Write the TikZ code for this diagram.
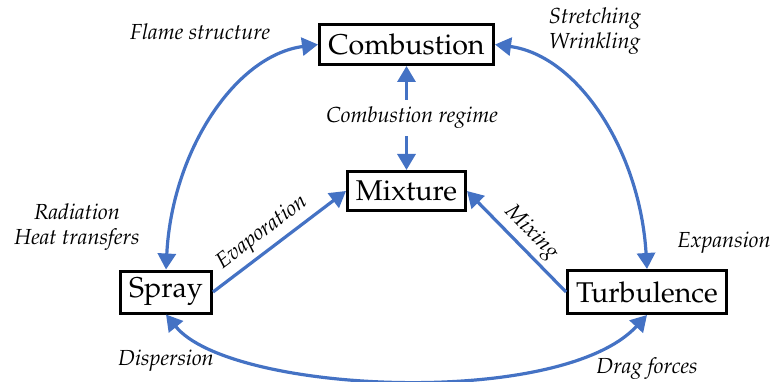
\documentclass[tikz,border=0pt]{standalone}
\usepackage[T1]{fontenc}
\usepackage{mathpazo}
\usetikzlibrary{arrows.meta}
\definecolor{arrblue}{RGB}{68,114,196}
\begin{document}
\begin{tikzpicture}[x=1pt,y=-1pt,
  box/.style={draw=black, line width=3pt, inner sep=0pt, font=\fontsize{28.6}{32}\selectfont},
  lbl/.style={font=\fontsize{21.8}{25}\selectfont\itshape, align=center, inner sep=0pt},
  tip/.tip={Triangle[length=16pt,width=18pt]},
  arr/.style={draw=arrblue, line width=3.2pt, -tip},
  darr/.style={draw=arrblue, line width=3.2pt, tip-tip}]
\useasboundingbox (0,0) rectangle (770,382);

\node[box, minimum width=174pt, minimum height=40pt] (comb) at (406.5,44.5) {Combustion};
\node[box, minimum width=118pt, minimum height=39pt] (mix) at (406.5,191) {Mixture};
\node[box, minimum width=91pt, minimum height=42pt] (spray) at (166,292) {Spray};
\node[box, minimum width=159pt, minimum height=43pt] (turb) at (647,292) {Turbulence};

\node[lbl, minimum height=36pt] (regime) at (412,118) {Combustion regime};
\node[lbl] (flame) at (200,32) {Flame structure};
\node[lbl, align=left] (stretch) at (595,31) {Stretching\\Wrinkling};
\node[lbl] (rad) at (77,227) {Radiation\\Heat transfers};
\node[lbl] (disp) at (166,361) {Dispersion};
\node[lbl] (drag) at (647,369) {Drag forces};
\node[lbl] (exp) at (724,243) {Expansion};

\draw[arr] (regime.north -| comb.south) -- (comb.south);
\draw[arr] (regime.south -| mix.north) -- (mix.north);

\draw[darr] (spray.north) .. controls +(6,-118) and +(-83,11) .. (comb.west);
\draw[darr] (turb.north) .. controls +(-7,-118) and +(83,11) .. (comb.east);
\draw[darr] (spray.south) .. controls +(64,79) and +(-87,94) .. (turb.south);

\draw[arr] (spray.east) -- node[lbl, sloped, above=5pt, pos=0.45] {Evaporation} (mix.west);
\draw[arr] (turb.west) -- node[lbl, sloped, above=4pt, pos=0.47] {Mixing} (mix.east);
\end{tikzpicture}
\end{document}
